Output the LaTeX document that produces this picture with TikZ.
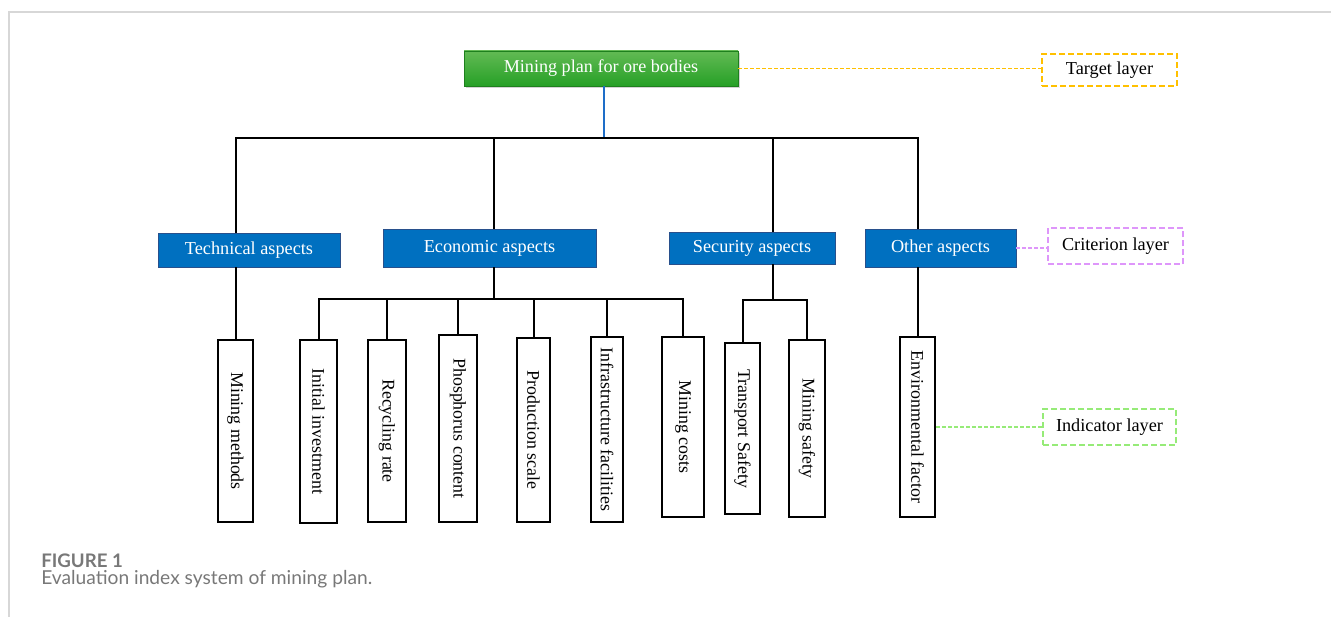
\documentclass[tikz,border=0pt]{standalone}
\usepackage{fontspec}
\setmainfont{Liberation Serif}
\newfontfamily\capfont{Lato}
\usetikzlibrary{shadows}
\definecolor{critblue}{RGB}{0,112,192}
\definecolor{critedge}{RGB}{40,80,140}
\definecolor{topblue}{RGB}{30,110,200}
\definecolor{gtop}{RGB}{98,186,84}
\definecolor{gbot}{RGB}{38,160,38}
\definecolor{tgtc}{RGB}{255,192,0}
\definecolor{crc}{RGB}{222,150,250}
\definecolor{inc}{RGB}{150,235,120}
\definecolor{framec}{RGB}{215,215,215}
\definecolor{capc}{RGB}{120,120,120}
\begin{document}
\begin{tikzpicture}[x=0.75pt,y=-0.75pt,
  sz/.style 2 args={minimum width=#1*0.75pt,minimum height=#2*0.75pt},
  crit/.style={draw=critedge, fill=critblue, text=white, inner sep=0pt, line width=0.6pt,
    font=\fontsize{13.7}{15}\selectfont},
  ind/.style={draw=black, line width=1.6pt, rotate=-90, inner sep=0pt,
    font=\fontsize{13.4}{15}\selectfont},
  conn/.style={line width=1.5pt, draw=black},
  layerbox/.style={line width=1.5pt, dash pattern=on 4.5pt off 2.25pt, inner sep=0pt,
    fill=white, font=\fontsize{13.7}{15}\selectfont},
  layerline/.style={line width=0.8pt, dash pattern=on 3pt off 1.5pt}
]
\useasboundingbox (0,0) rectangle (1331,617);
% frame
\draw[framec, line width=1.2pt] (9,617) -- (9,12) -- (1331,12);

% target
\node[sz={274}{35}, top color=gtop, bottom color=gbot, draw=gbot!80!black, line width=0.3pt,
  text=white, inner sep=0pt, font=\fontsize{13.6}{15}\selectfont,
  drop shadow={shadow xshift=1.5pt, shadow yshift=-1.5pt, opacity=0.35}] (top) at (601,68.5) {Mining plan for ore bodies};

% criteria
\node[crit, sz={182}{34}] (tech) at (249,250) {Technical aspects};
\node[crit, sz={213}{38}] (eco) at (489.5,248) {Economic aspects};
\node[crit, sz={166}{32}] (sec) at (752,248) {Security aspects};
\node[crit, sz={151}{38}] (oth) at (940.5,248) {Other aspects};

% indicators (rotated: minimum width = page height)
\node[ind, sz={182}{35}] (i1) at (235.5,431) {Mining methods};
\node[ind, sz={183}{37}] (i2) at (318.5,431.5) {Initial investment};
\node[ind, sz={182}{38}] (i3) at (387,431) {Recycling rate};
\node[ind, sz={187}{38}] (i4) at (458,428.5) {Phosphorus content};
\node[ind, sz={184}{33}] (i5) at (533.5,430) {Production scale};
\node[ind, sz={185}{32}] (i6) at (607,429.5) {Infrastructure facilities};
\node[ind, sz={180}{42}] (i7) at (683,427) {Mining costs};
\node[ind, sz={171}{35}] (i8) at (742.5,428.5) {Transport Safety};
\node[ind, sz={177}{36}] (i9) at (807,428.5) {Mining safety};
\node[ind, sz={180}{35}] (i10) at (917.5,427) {Environmental factor};

% layer labels
\node[layerbox, draw=tgtc, sz={135}{32}] (tl) at (1109.5,70) {Target layer};
\node[layerbox, draw=crc, sz={135}{36}] (cl) at (1115.5,246) {Criterion layer};
\node[layerbox, draw=inc, sz={133}{36}] (il) at (1109.5,427) {Indicator layer};

% top bus
\coordinate (tb) at (604,138);
\coordinate (eb) at (494,299);
\coordinate (sb) at (773,300);
\draw[line width=1.8pt, topblue] (top.south -| tb) -- (tb);
\draw[conn] (tb) -| (i1.west |- tech.north);
\draw[conn] (tb) -| (eco.north -| eb);
\draw[conn] (tb) -| (sec.north -| sb);
\draw[conn] (tb) -| (oth.north -| i10.west);

% technical
\draw[conn] (tech.south -| i1.west) -- (i1.west);
% economic
\draw[conn] (eco.south -| eb) -- (eb);
\foreach \n in {i2,i3,i4,i5,i6,i7} \draw[conn] (eb) -| (\n.west);
% security
\draw[conn] (sec.south -| sb) -- (sb);
\draw[conn] (sb) -| (i8.west);
\draw[conn] (sb) -| (i9.west);
% other
\draw[conn] (oth.south -| i10.west) -- (i10.west);

% layer connectors
\draw[layerline, tgtc] (top.east) -- (top.east -| tl.west);
\draw[layerline, crc] (oth.east) -- (oth.east -| cl.west);
\draw[layerline, inc] (i10.north) -- (i10.north -| il.west);

% caption
\node[anchor=base west, inner sep=0pt, text=capc, font=\capfont\bfseries\fontsize{14}{16}\selectfont] (fig) at (41,567) {FIGURE 1};
\node[anchor=base west, inner sep=0pt, text=capc, font=\capfont\fontsize{14.4}{16}\selectfont] (cap) at (41,584) {Evaluation index system of mining plan.};
\end{tikzpicture}
\end{document}
